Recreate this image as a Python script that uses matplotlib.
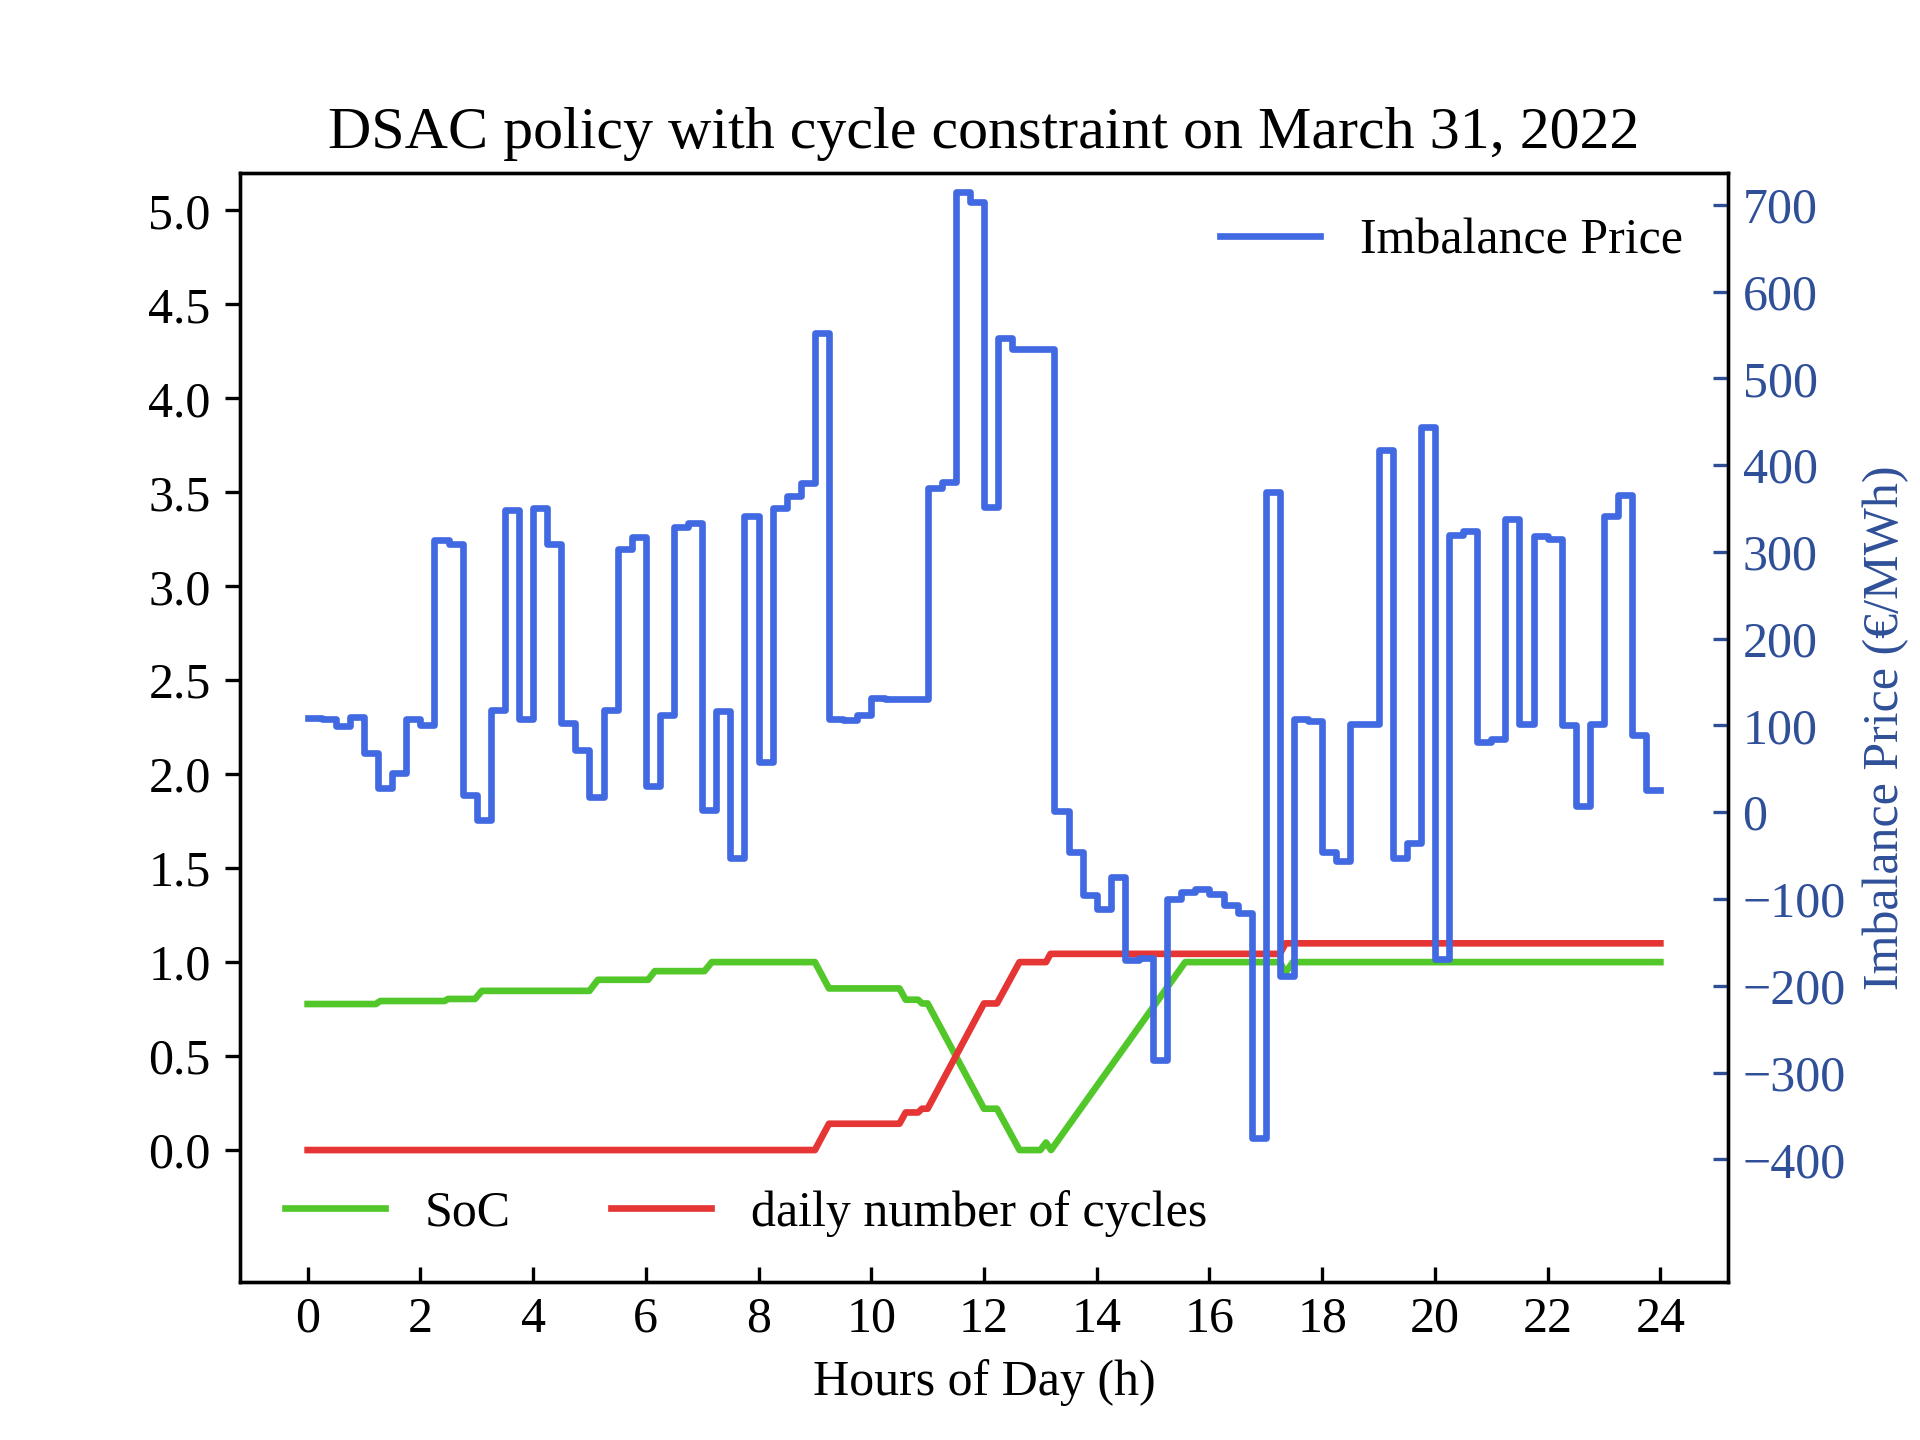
import matplotlib
matplotlib.use("Agg")
import matplotlib.pyplot as plt
import numpy as np

plt.rcParams["font.family"] = ["Liberation Serif", "DejaVu Serif"]
plt.rcParams["font.size"] = 12

# 15-min imbalance prices (EUR/MWh), 96 quarter hours
price = [109, 108, 99, 110, 68, 28, 45, 108, 100, 314, 309, 20, -9, 118, 348, 108,
         351, 309, 103, 72, 18, 118, 303, 317, 30, 112, 329, 333, 3, 117, -53, 342,
         58, 351, 365, 380, 552, 107, 106, 112, 132, 131, 130, 130, 374, 381, 715, 703,
         352, 547, 534, 534, 534, 1, -46, -95, -111, -75, -170, -168, -286, -100, -92, -88,
         -94, -107, -116, -375, 369, -189, 108, 105, -46, -56, 102, 102, 418, -53, -36, 444,
         -169, 319, 324, 81, 84, 338, 102, 318, 315, 101, 7, 102, 342, 366, 89, 26]
price_edges = np.arange(len(price) + 1) * 0.25

# state of charge breakpoints
soc_hours = [0, 1.21, 1.29, 2.43, 2.49, 2.97, 3.09, 5.00, 5.15, 6.04, 6.16, 7.04, 7.17,
             9.0, 9.25, 10.5, 10.61, 10.83, 10.9, 11.0, 12.0, 12.23, 12.63, 13.0, 13.1,
             13.19, 15.57, 17.25, 17.35, 17.48, 24]
soc = [0.777, 0.777, 0.793, 0.793, 0.804, 0.804, 0.847, 0.847, 0.906, 0.906, 0.952, 0.952, 1.0,
       1.0, 0.86, 0.86, 0.80, 0.80, 0.78, 0.78, 0.22, 0.22, 0.0, 0.0, 0.04,
       0.0, 1.0, 1.0, 0.944, 1.0, 1.0]

# cumulative daily cycles breakpoints
cyc_hours = [0, 9.0, 9.25, 10.5, 10.61, 10.83, 10.9, 11.0, 12.0, 12.23, 12.63, 13.1, 13.18,
             17.25, 17.35, 24]
cycles = [0, 0, 0.14, 0.14, 0.20, 0.20, 0.22, 0.22, 0.78, 0.78, 1.0, 1.0, 1.044,
          1.044, 1.10, 1.10]

price_color = "royalblue"
axis2_color = "#2f4f98"

fig, ax1 = plt.subplots(figsize=(6.4, 4.8), dpi=300)
ax2 = ax1.twinx()

ax1.plot(soc_hours, soc, color="#52c72a", lw=1.6, label="SoC")
ax1.plot(cyc_hours, cycles, color="#e53535", lw=1.6, label="daily number of cycles")
ax2.step(price_edges, np.append(price, price[-1]), where="post", color=price_color,
         lw=1.6, label="Imbalance Price")

ax1.set_xlim(-1.2, 25.2)
ax1.set_ylim(-0.7, 5.2)
ax1.set_yticks(np.arange(0, 5.01, 0.5))
ax1.set_xticks(np.arange(0, 25, 2))
ax1.tick_params(axis="x", direction="in")
ax1.set_xlabel("Hours of Day (h)")

ax2.set_ylim(-541, 737)
ax2.set_yticks(np.arange(-400, 701, 100))
ax2.set_ylabel("Imbalance Price (€/MWh)", color=axis2_color)
ax2.tick_params(axis="y", colors=axis2_color, direction="in")

ax1.legend(loc="lower left", ncol=2, frameon=False)
ax2.legend(loc="upper right", frameon=False)
ax1.set_title("DSAC policy with cycle constraint on March 31, 2022", fontsize="large")

fig.savefig("out.png", dpi=300)
